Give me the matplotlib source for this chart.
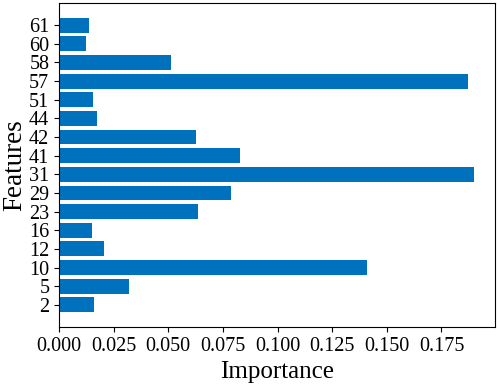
import matplotlib.pyplot as plt

plt.rcParams['font.family'] = ['Liberation Serif', 'DejaVu Serif']

features = ['2', '5', '10', '12', '16', '23', '29', '31', '41', '42', '44', '51', '57', '58', '60', '61']
importance = [0.0159, 0.0321, 0.141, 0.0206, 0.0151, 0.0634, 0.0786, 0.190,
              0.0830, 0.0626, 0.0174, 0.0154, 0.187, 0.0513, 0.0122, 0.0135]

fig = plt.figure(figsize=(4.98, 3.86), dpi=100)
ax = fig.add_axes([59 / 498, 1 - 327 / 386, 436 / 498, 324 / 386])

ax.barh(features, importance, color='#0072BD')
ax.set_xticks([0, 0.025, 0.05, 0.075, 0.1, 0.125, 0.15, 0.175])
ax.tick_params(labelsize=14.5)
ax.set_xlabel('Importance', fontsize=18)
ax.set_ylabel('Features', fontsize=19.5, labelpad=1)

fig.savefig('out.png', dpi=100)
